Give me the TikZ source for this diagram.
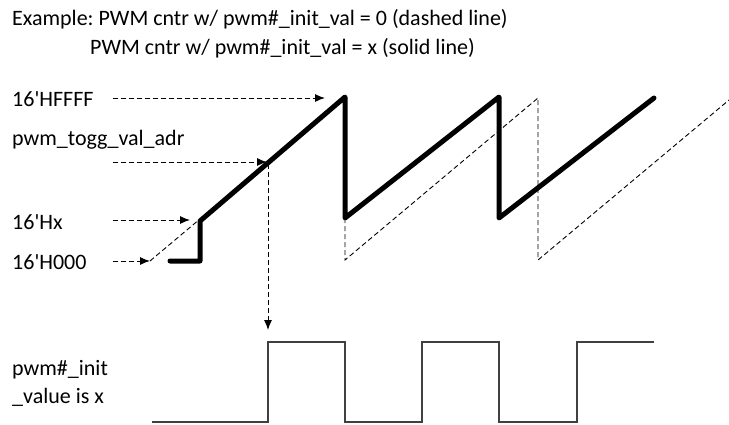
\documentclass[tikz,border=0pt]{standalone}
\usepackage{fontspec}
\setmainfont{Carlito}
\usepackage{tikz}
\usetikzlibrary{arrows.meta}

\tikzset{
	lbl/.style={anchor=west,inner sep=0pt,font=\fontsize{22}{28}\selectfont\frenchspacing},
	ptr/.style={dash pattern=on 5pt off 3pt,line width=1pt,-{Latex[length=10pt,width=8pt]}},
	guide/.style={dash pattern=on 5pt off 3pt,line width=0.9pt},
	cntr/.style={line width=5pt,line join=round,line cap=round},
	wave/.style={line width=1.2pt,black!75}
}

\begin{document}
\begin{tikzpicture}[x=1pt,y=-1pt]
		\useasboundingbox (0,0) rectangle (729,424);

		\node[lbl] (title1) at (12,19) {Example: PWM cntr w/ pwm\#\_init\_val = 0 (dashed line)};
		\node[lbl] (title2) at (90,48) {PWM cntr w/ pwm\#\_init\_val = x (solid line)};

		\node[lbl] (hffff) at (12,99) {16\textquotesingle HFFFF};
		\node[lbl] (togg) at (12,140) {pwm\_togg\_val\_adr};
		\node[lbl] (hx) at (12,222) {16\textquotesingle Hx};
		\node[lbl] (hzero) at (12,262) {16\textquotesingle H000};
		\node[lbl,align=left] (initx) at (12,383) {pwm\#\_init\\\_value is x};

		\coordinate (ffffA) at (113,98);   \coordinate (ffffB) at (325,98);
		\coordinate (toggA) at (113,162);  \coordinate (toggB) at (267,162);
		\coordinate (hxA) at (113,220);    \coordinate (hxB) at (190,220);
		\coordinate (zeroA) at (113,261);  \coordinate (zeroB) at (150,261);
		\coordinate (hit) at (268,164);    \coordinate (edge) at (268,330);

		% counter with init_val = 0
		\draw[guide] (zeroB) -- (345,97) -- (345,260) -- (538,98) -- (538,260) -- (729,100);
		% counter with init_val = x
		\draw[cntr] (170,261) -- (200,261) -- (200,221) -- (345,97) -- (345,218)
			-- (499,97) -- (499,218) -- (654,98);

		\draw[ptr] (ffffA) -- (ffffB);
		\draw[ptr] (toggA) -- (toggB);
		\draw[ptr] (hxA) -- (hxB);
		\draw[ptr] (zeroA) -- (zeroB);
		\draw[ptr] (hit) -- (edge);

		\draw[wave] (152,422) -- (268,422) -- (268,342) -- (345,342) -- (345,422)
			-- (422,422) -- (422,342) -- (499,342) -- (499,422)		% REPEAT ME!
			-- (577,422) -- (577,342) -- (654,342);
	\end{tikzpicture}
\end{document}
